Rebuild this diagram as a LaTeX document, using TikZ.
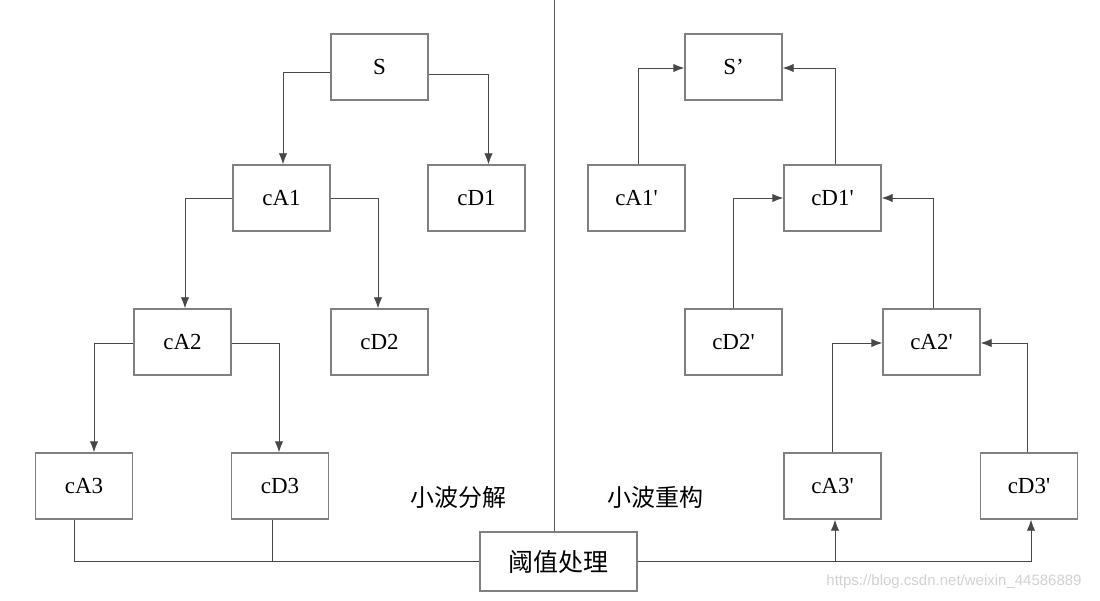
\documentclass[tikz,border=0pt]{standalone}
\usepackage{fontspec}
\setmainfont{Liberation Serif}[Ligatures=TeXOff]
\newfontfamily\cjk{Noto Sans CJK SC}
\newfontfamily\wmfont{Liberation Sans}
\usetikzlibrary{arrows.meta,calc}
\begin{document}
\begin{tikzpicture}[x=1pt,y=-1pt,
  box/.style={draw=black!50,line width=1.4pt,fill=white,minimum width=97pt,minimum height=66pt,inner sep=0pt,font=\fontsize{23}{26}\selectfont},
  conn/.style={draw=black!72,line width=0.9pt},
  arr/.style={conn,-{Latex[length=11pt,width=8.5pt]}},
  lbl/.style={font=\cjk\fontsize{24}{28}\selectfont,inner sep=0pt}]
\useasboundingbox (0,0) rectangle (1100,601);
% left (decomposition)
\node[box] (S) at (379.5,67) {S};
\node[box] (cA1) at (281.5,198) {cA1};
\node[box] (cD1) at (476.5,198) {cD1};
\node[box] (cA2) at (182.5,342) {cA2};
\node[box] (cD2) at (379.5,342) {cD2};
\node[box] (cA3) at (84,486) {cA3};
\node[box] (cD3) at (280,486) {cD3};
% threshold
\node[box,minimum width=157pt,minimum height=59pt,font=\cjk\fontsize{25}{28}\selectfont] (T) at (558.5,561.5) {阈值处理};
% right (reconstruction)
\node[box] (Sp) at (733.5,67) {S’};
\node[box] (cA1p) at (636.5,198) {cA1'};
\node[box] (cD1p) at (832.5,198) {cD1'};
\node[box] (cD2p) at (733.5,342) {cD2'};
\node[box] (cA2p) at (931.5,342) {cA2'};
\node[box] (cA3p) at (832.5,486) {cA3'};
\node[box] (cD3p) at (1029,486) {cD3'};
% divider
\coordinate (dtop) at (554,0);
\draw[draw=black!65,line width=1pt] (dtop) -- (dtop |- T.north);
% labels
\node[lbl] (L1) at (458,497) {小波分解};
\node[lbl] (L2) at (655,497) {小波重构};
\node[font=\wmfont\fontsize{15}{18}\selectfont,text=black!18,inner sep=0pt] (wm) at (954,582) {https://blog.csdn.net/weixin\_44586889};
% decomposition connectors
\draw[arr] ([yshift=-5pt]S.west) -| ([xshift=1.5pt]cA1.north);
\draw[arr] ([yshift=-7pt]S.east) -| ([xshift=12pt]cD1.north);
\draw[arr] (cA1.west) -| ([xshift=2.5pt]cA2.north);
\draw[arr] (cA1.east) -| ([xshift=-1.5pt]cD2.north);
\draw[arr] ([yshift=-1pt]cA2.west) -| ([xshift=10pt]cA3.north);
\draw[arr] ([yshift=-1pt]cA2.east) -| ([xshift=-1pt]cD3.north);
% to threshold
\draw[conn] ([xshift=-10pt]cA3.south) |- (T.west);
\draw[conn] ([xshift=-8pt]cD3.south) -- ([xshift=-8pt]cD3.south |- T.west);
% from threshold
\coordinate (cA3pin) at ([xshift=2.5pt]cA3p.south);
\draw[arr] (T.east) -| ([xshift=2pt]cD3p.south);
\draw[arr] (cA3pin |- T.east) -- (cA3pin);
% reconstruction connectors
\draw[arr] (cA3p.north) |- ([yshift=-1pt]cA2p.west);
\draw[arr] ([xshift=-2pt]cD3p.north) |- ([yshift=-1pt]cA2p.east);
\draw[arr] (cD2p.north) |- (cD1p.west);
\draw[arr] ([xshift=1.5pt]cA2p.north) |- (cD1p.east);
\draw[arr] ([xshift=1.5pt]cA1p.north) |- ([yshift=-1pt]Sp.west);
\draw[arr] ([xshift=2.5pt]cD1p.north) |- ([yshift=-1pt]Sp.east);
\end{tikzpicture}
\end{document}
